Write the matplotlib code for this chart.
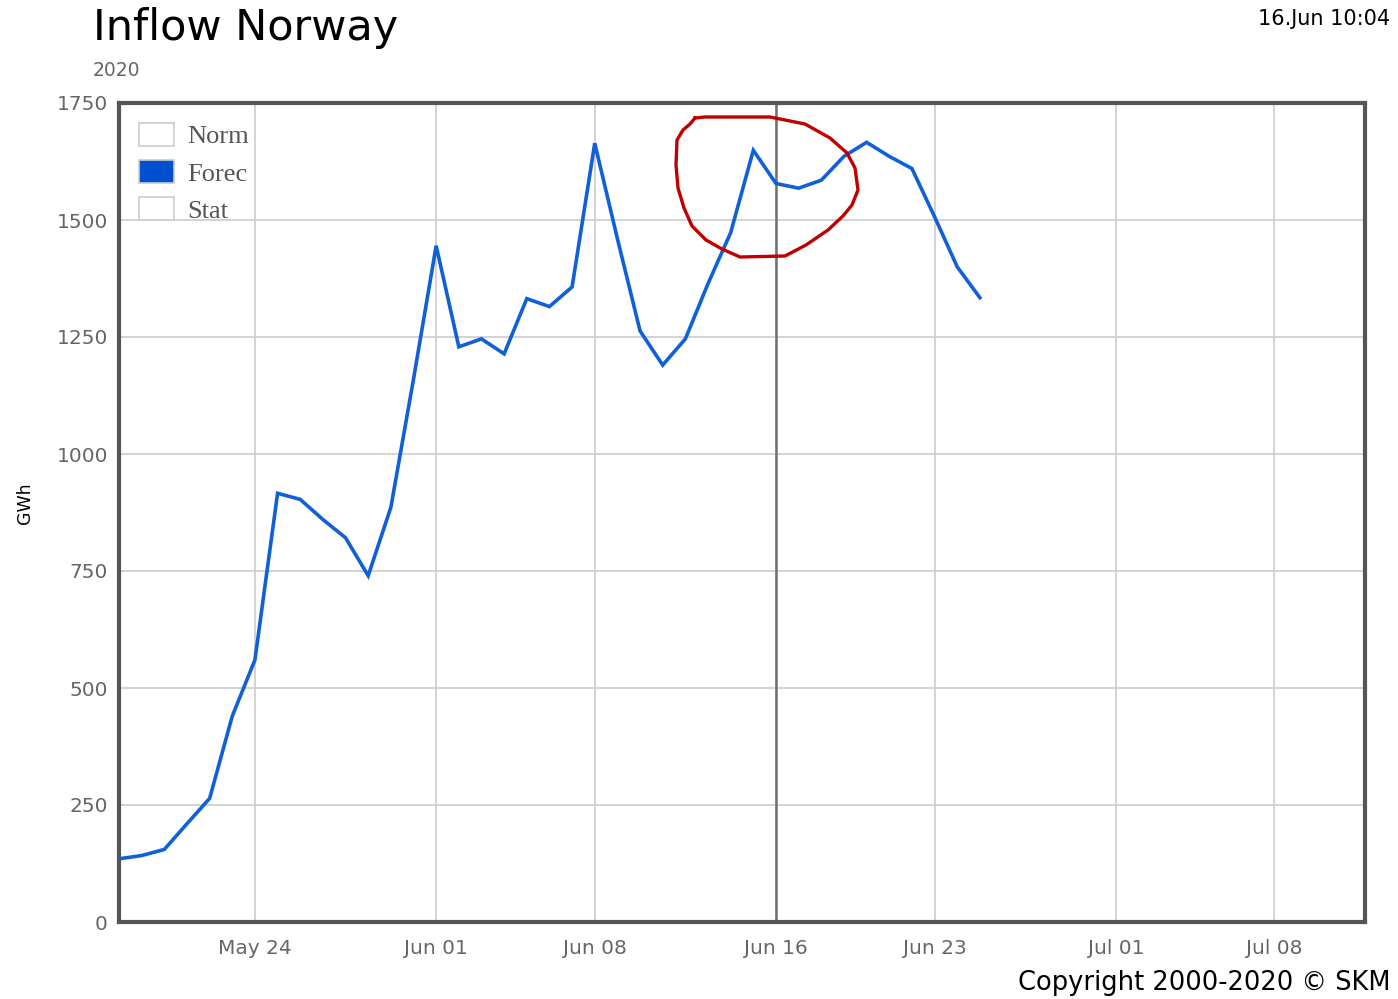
import datetime as dt
import matplotlib
matplotlib.use("Agg")
import matplotlib.pyplot as plt
import matplotlib.dates as mdates
from matplotlib.patches import Patch
from matplotlib.lines import Line2D

# daglig tilsig (GWh), fra 18. mai 2020
start_day = dt.date(2020, 5, 18)
inflow = [135, 142, 155, 210, 264, 440, 560, 916, 903, 860, 821, 740, 886, 1160,
          1445, 1229, 1246, 1214, 1332, 1315, 1357, 1664, 1460, 1263, 1190, 1246,
          1364, 1473, 1649, 1578, 1568, 1585, 1636, 1666, 1636, 1610, 1507, 1400, 1334]
days = [start_day + dt.timedelta(days=i) for i in range(len(inflow))]

tick_days = [dt.date(2020, 5, 24), dt.date(2020, 6, 1), dt.date(2020, 6, 8), dt.date(2020, 6, 16),
             dt.date(2020, 6, 23), dt.date(2020, 7, 1), dt.date(2020, 7, 8)]
y_ticks = [0, 250, 500, 750, 1000, 1250, 1500, 1750]
legend_labels = ["Norm", "Forec", "Stat"]
now_day = dt.date(2020, 6, 16)

# håndtegnet rød ring (figurpiksler)
ring_px = [(695, 118), (705, 117), (770, 117), (805, 124), (830, 138), (847, 153), (855, 168),
           (858, 190), (852, 205), (843, 216), (828, 230), (806, 245), (785, 256), (740, 257),
           (722, 249), (706, 240), (692, 226), (684, 208), (678, 188), (676, 165), (677, 140),
           (683, 130), (690, 124), (695, 118)]

W, H = 1398, 999
fig = plt.figure(figsize=(W / 100, H / 100), dpi=100)
ax = fig.add_axes([119 / W, 1 - 922 / H, (1365 - 119) / W, (922 - 103) / H])

ax.plot(days, inflow, color="#1060d8", lw=2.6, solid_joinstyle="miter", zorder=3)
ax.axvline(now_day, color="#707070", lw=1.8, zorder=2)

ax.set_xlim(dt.date(2020, 5, 18), dt.date(2020, 7, 12))
ax.set_ylim(0, 1750)
ax.set_xticks(tick_days)
ax.xaxis.set_major_formatter(mdates.DateFormatter("%b %d"))
ax.set_yticks(y_ticks)
ax.grid(True, color="#d0d0d0", lw=1.3, zorder=1)
ax.tick_params(length=0, labelsize=14.5, colors="#666666", pad=12)
ax.tick_params(axis="y", pad=8)
for s in ax.spines.values():
    s.set_color("#555555")
    s.set_linewidth(3)

handles = [Patch(facecolor="white", edgecolor="#cccccc", lw=1.2),
           Patch(facecolor="#0050d0", edgecolor="#cccccc", lw=1.2),
           Patch(facecolor="white", edgecolor="#cccccc", lw=1.2)]
leg = ax.legend(handles, legend_labels, loc="upper left", frameon=False,
                prop={"family": "Liberation Serif", "size": 19},
                handlelength=1.35, handleheight=0.95, handletextpad=0.5,
                labelspacing=0.45, borderaxespad=0.35)
for t in leg.get_texts():
    t.set_color("#555555")

fig.text(25 / W, 1 - 503 / H, "GWh", fontsize=12.5, rotation=90, va="center", ha="center")
fig.text(93 / W, 1 - 28 / H, "Inflow Norway", fontsize=31, va="center", ha="left")
fig.text(93 / W, 1 - 70 / H, "2020", fontsize=13.5, color="#666666", va="center", ha="left")
fig.text(1390 / W, 1 - 19 / H, "16.Jun 10:04", fontsize=15, va="center", ha="right")
fig.text(1390 / W, 1 - 983 / H, "Copyright 2000-2020 \u00a9 SKM", fontsize=18.5, va="center", ha="right")

rx = [p[0] / W for p in ring_px]
ry = [1 - p[1] / H for p in ring_px]
fig.add_artist(Line2D(rx, ry, transform=fig.transFigure, color="#c00000", lw=2.4, zorder=5))

fig.savefig("out.png", dpi=100)
